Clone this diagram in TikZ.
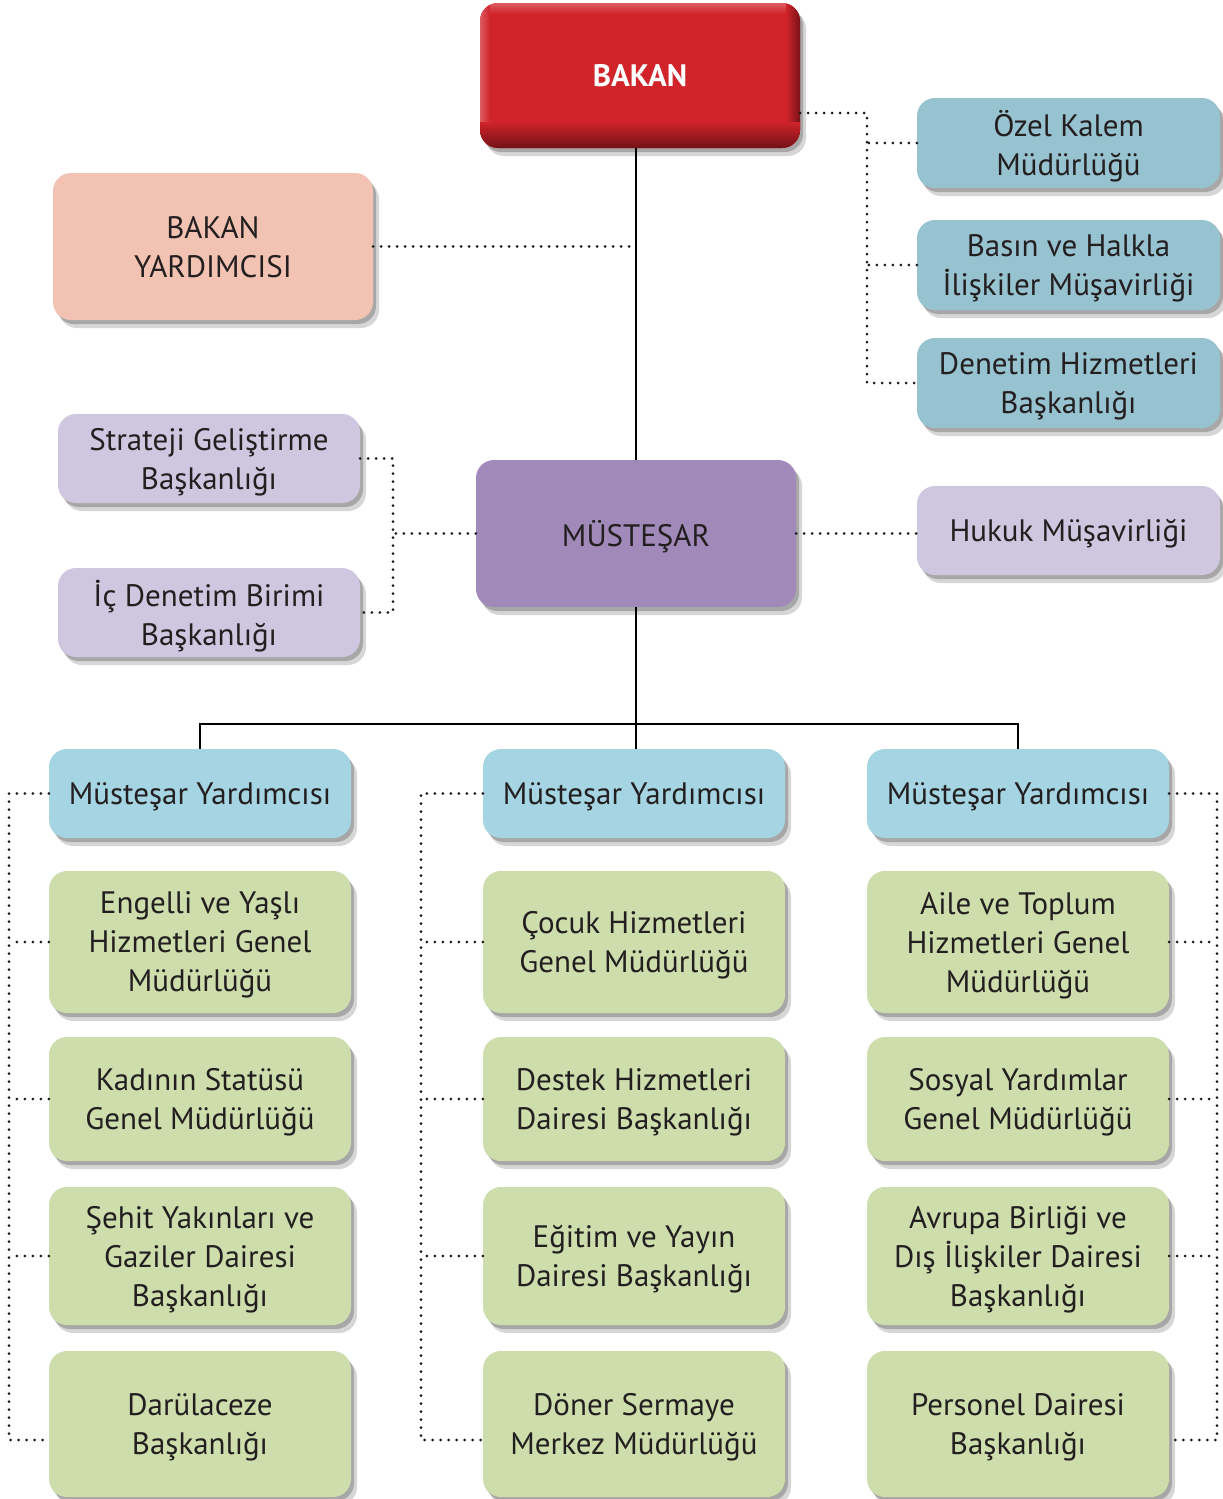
\documentclass[tikz,border=0pt]{standalone}
\usepackage{fontspec}
\setmainfont{PT Sans}
\usetikzlibrary{shadows,calc}
\definecolor{bakanred}{HTML}{D0232A}
\definecolor{bakandark}{HTML}{6A1014}
\definecolor{bakanlight}{HTML}{E0676C}
\definecolor{teal}{HTML}{97C2CF}
\definecolor{peach}{HTML}{F2C3B2}
\definecolor{lav}{HTML}{CFC7E0}
\definecolor{purp}{HTML}{A18AB9}
\definecolor{lblue}{HTML}{A5D4E2}
\definecolor{lgreen}{HTML}{CDDDAB}
\definecolor{txt}{HTML}{231F20}
\definecolor{dotc}{HTML}{1A1A1A}
\begin{document}
\begin{tikzpicture}[x=1pt,y=-1pt,
  box/.style={rounded corners=18pt, draw=none, inner sep=0pt, align=center,
    text=txt, font=\fontsize{31}{39}\selectfont, text depth=0pt,
    general shadow={shadow xshift=3pt, shadow yshift=-4pt, opacity=0.22, fill=black},
    general shadow={shadow xshift=6pt, shadow yshift=-8pt, opacity=0.16, fill=black}},
  wide/.style={box, minimum width=320pt, minimum height=147pt},
  side/.style={box, minimum width=303pt, minimum height=90pt},
  col/.style={box, minimum width=302pt},
  solidline/.style={line width=2pt, draw=black},
  dotline/.style={line width=3pt, draw=dotc, dash pattern=on 0pt off 8pt, line cap=round}]
\useasboundingbox (0,0) rectangle (1223,1499);

% top level
\node[wide, fill=bakanred, minimum height=145pt, text=white, font=\fontsize{31}{39}\selectfont\bfseries] (bakan) at (640,75.5) {BAKAN};
\begin{scope}
  \clip[rounded corners=18pt] (480,3) rectangle (800,148);
  \shade[top color=bakanlight, bottom color=bakanred] (478,1) rectangle (802,14);
  \shade[left color=bakanlight, right color=bakanred] (478,1) rectangle (490,150);
  \shade[left color=bakanred, right color=bakandark] (786,1) rectangle (802,150);
  \shade[top color=bakanred, bottom color=bakandark] (478,122) rectangle (802,150);
\end{scope}

\node[side, fill=teal] (ozel) at (1068.5,143) {Özel Kalem\\Müdürlüğü};
\node[side, fill=teal] (basin) at (1068.5,265) {Basın ve Halkla\\İlişkiler Müşavirliği};
\node[side, fill=teal] (denetim) at (1068.5,383) {Denetim Hizmetleri\\Başkanlığı};

\node[wide, fill=peach] (bakyard) at (213,246.5) {BAKAN\\YARDIMCISI};

\node[col, minimum height=89pt, fill=lav] (strateji) at (209,458.5) {Strateji Geliştirme\\Başkanlığı};
\node[col, minimum height=89pt, fill=lav] (icden) at (209,612.5) {İç Denetim Birimi\\Başkanlığı};

\node[wide, fill=purp] (mustesar) at (636,533.5) {MÜSTEŞAR};
\node[side, minimum height=89pt, fill=lav] (hukuk) at (1068.5,530.5) {Hukuk Müşavirliği};

% assistant undersecretaries
\node[col, minimum height=89pt, fill=lblue] (my1) at (200,793.5) {Müsteşar Yardımcısı};
\node[col, minimum height=89pt, fill=lblue] (my2) at (634,793.5) {Müsteşar Yardımcısı};
\node[col, minimum height=89pt, fill=lblue] (my3) at (1018,793.5) {Müsteşar Yardımcısı};

% column 1
\node[col, minimum height=142pt, fill=lgreen] (a1) at (200,942) {Engelli ve Yaşlı\\Hizmetleri Genel\\Müdürlüğü};
\node[col, minimum height=124pt, fill=lgreen] (a2) at (200,1099) {Kadının Statüsü\\Genel Müdürlüğü};
\node[col, minimum height=138pt, fill=lgreen] (a3) at (200,1256) {Şehit Yakınları ve\\Gaziler Dairesi\\Başkanlığı};
\node[col, minimum height=146pt, fill=lgreen] (a4) at (200,1424) {Darülaceze\\Başkanlığı};
% column 2
\node[col, minimum height=142pt, fill=lgreen] (b1) at (634,942) {Çocuk Hizmetleri\\Genel Müdürlüğü};
\node[col, minimum height=124pt, fill=lgreen] (b2) at (634,1099) {Destek Hizmetleri\\Dairesi Başkanlığı};
\node[col, minimum height=138pt, fill=lgreen] (b3) at (634,1256) {Eğitim ve Yayın\\Dairesi Başkanlığı};
\node[col, minimum height=146pt, fill=lgreen] (b4) at (634,1424) {Döner Sermaye\\Merkez Müdürlüğü};
% column 3
\node[col, minimum height=142pt, fill=lgreen] (c1) at (1018,942) {Aile ve Toplum\\Hizmetleri Genel\\Müdürlüğü};
\node[col, minimum height=124pt, fill=lgreen] (c2) at (1018,1099) {Sosyal Yardımlar\\Genel Müdürlüğü};
\node[col, minimum height=138pt, fill=lgreen] (c3) at (1018,1256) {Avrupa Birliği ve\\Dış İlişkiler Dairesi\\Başkanlığı};
\node[col, minimum height=146pt, fill=lgreen] (c4) at (1018,1424) {Personel Dairesi\\Başkanlığı};

% solid hierarchy
\coordinate (hub) at (636,724);
\draw[solidline] (mustesar.north |- bakan.south) -- (mustesar.north);
\draw[solidline] (mustesar.south) -- (hub);
\draw[solidline] (hub) -| (my1.north);
\draw[solidline] (hub) -| (my3.north);
\draw[solidline] (hub) -- (hub |- my2.north);

% dotted: minister staff
\coordinate (bt) at (867,113);
\draw[dotline] (bakan.east |- bt) -- (bt) -- (bt |- denetim.west) -- (denetim.west);
\draw[dotline] (ozel.west) -- (ozel.west -| bt);
\draw[dotline] (basin.west) -- (basin.west -| bt);
\draw[dotline] (bakyard.east) -- (bakyard.east -| mustesar.north);

% dotted: undersecretary staff
\coordinate (lb) at (393,0);
\draw[dotline] (strateji.east) -- (strateji.east -| lb) -- (icden.east -| lb) -- (icden.east);
\draw[dotline] (mustesar.west) -- (mustesar.west -| lb);
\draw[dotline] (mustesar.east) -- (mustesar.east -| hukuk.west);

% dotted: column spines
\coordinate (s1) at (9,0);
\coordinate (s2) at (421,0);
\coordinate (s3) at (1217,0);
\coordinate (e1) at ([yshift=-16pt]a4.west);
\coordinate (e2) at ([yshift=-16pt]b4.west);
\coordinate (e3) at ([yshift=-16pt]c4.east);
\draw[dotline] (my1.west) -- (my1.west -| s1) -- (e1 -| s1) -- (e1);
\foreach \n in {a1,a2,a3} \draw[dotline] (\n.west) -- (\n.west -| s1);
\draw[dotline] (my2.west) -- (my2.west -| s2) -- (e2 -| s2) -- (e2);
\foreach \n in {b1,b2,b3} \draw[dotline] (\n.west) -- (\n.west -| s2);
\draw[dotline] (my3.east) -- (my3.east -| s3) -- (e3 -| s3) -- (e3);
\foreach \n in {c1,c2,c3} \draw[dotline] (\n.east) -- (\n.east -| s3);
\end{tikzpicture}
\end{document}
